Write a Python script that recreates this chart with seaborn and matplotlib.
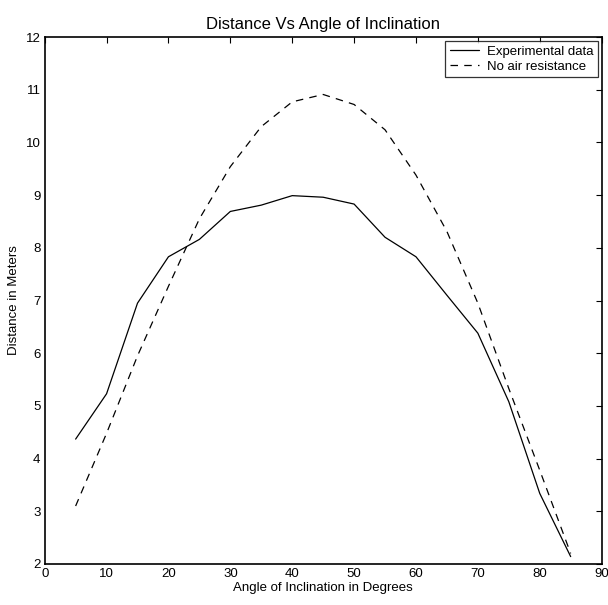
import pandas as pd
import matplotlib
matplotlib.use("Agg")
import matplotlib.pyplot as plt
import seaborn as sns

# data
angles = [5, 10, 15, 20, 25, 30, 35, 40, 45, 50, 55, 60, 65, 70, 75, 80, 85]
experimental = [4.37, 5.23, 6.95, 7.83, 8.16, 8.69, 8.81, 8.99, 8.96, 8.83, 8.20,
                7.83, 7.10, 6.38, 5.08, 3.34, 2.14]
no_air = [3.10, 4.48, 5.95, 7.27, 8.55, 9.54, 10.30, 10.77, 10.91, 10.72, 10.24,
          9.38, 8.31, 6.95, 5.33, 3.78, 2.20]
series_names = ["Experimental data", "No air resistance"]

df = pd.DataFrame({
    "angle": angles * 2,
    "distance": experimental + no_air,
    "series": [series_names[0]] * len(angles) + [series_names[1]] * len(angles),
})

sns.set_style("white")
plt.rcParams["font.family"] = ["Liberation Sans", "DejaVu Sans"]
plt.rcParams["text.color"] = "black"
plt.rcParams["axes.labelcolor"] = "black"

fig = plt.figure(figsize=(6.08, 6.05), dpi=100)
ax = fig.add_axes([0.0735, 0.0678, 0.916, 0.871])

sns.lineplot(data=df, x="angle", y="distance", style="series", color="black",
             dashes={series_names[0]: "", series_names[1]: (6, 5)},
             linewidth=0.9, ax=ax)

ax.set_xlim(0, 90)
ax.set_ylim(2, 12)
ax.set_xticks(range(0, 91, 10))
ax.set_yticks(range(2, 13, 1))
ax.tick_params(direction="in", top=True, right=True, length=4, width=0.8,
               labelsize=9.5, pad=3, colors="black")
for s in ax.spines.values():
    s.set_color("black")
    s.set_linewidth(1.2)

ax.set_title("Distance Vs Angle of Inclination", fontsize=12, pad=6, color="black")
ax.set_xlabel("Angle of Inclination in Degrees", fontsize=9.5, labelpad=1)
ax.set_ylabel("Distance in Meters", fontsize=9.5, labelpad=4)

leg = ax.legend(loc="upper right", fontsize=9.5, frameon=True, fancybox=False,
                borderaxespad=0.3, handlelength=2.2, borderpad=0.35,
                labelspacing=0.2, handletextpad=0.6)
leg.get_frame().set_edgecolor("black")
leg.get_frame().set_linewidth(0.9)
for t in leg.get_texts():
    t.set_color("black")

fig.savefig("out.png", dpi=100)
